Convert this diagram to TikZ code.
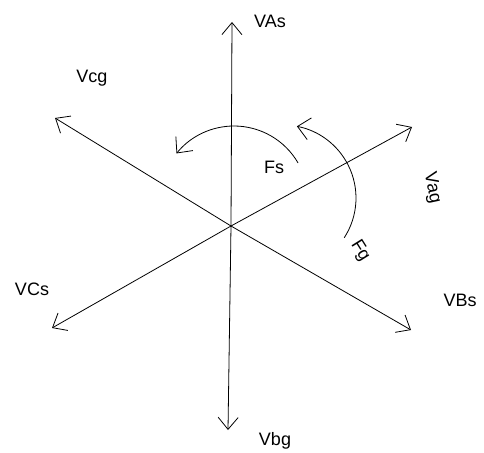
\documentclass[tikz,border=0pt]{standalone}
\usepackage{fontspec}
\setmainfont{Liberation Sans}
\usetikzlibrary{arrows.meta}
\begin{document}
\begin{tikzpicture}[x=1pt,y=-1pt,
  vec/.style={line width=0.8pt,-{Straight Barb[length=12pt,width=20pt,line width=0.8pt]}},
  rot/.style={line width=0.8pt,-{Straight Barb[length=12pt,width=22pt,line width=0.8pt]}},
  lbl/.style={font=\fontsize{18}{18}\selectfont, inner sep=0pt}]
\useasboundingbox (0,0) rectangle (484,452);
\coordinate (O) at (231,226);
\coordinate (As) at (232,22);
\coordinate (bg) at (228,430);
\coordinate (cg) at (55,118);
\coordinate (Bs) at (411,330);
\coordinate (ag) at (412,127);
\coordinate (Cs) at (52,328);
\draw[vec] (O) -- (As);
\draw[vec] (O) -- (bg);
\draw[vec] (O) -- (cg);
\draw[vec] (O) -- (Bs);
\draw[vec] (O) -- (ag);
\draw[vec] (O) -- (Cs);
% Fs arc
\coordinate (FsA) at ({234+74*cos(-30)},{200+74*sin(-30)});
\draw[rot] (FsA) arc[start angle=-30, end angle=-141, radius=74];
% Fg arc
\coordinate (FgA) at ({283+73*cos(33)},{198+73*sin(33)});
\draw[rot] (FgA) arc[start angle=33, end angle=-79, radius=73];
\node[lbl] (tAs) at (270,21) {VAs};
\node[lbl] (tcg) at (92,78) {Vcg};
\node[lbl] (tFs) at (274,167) {Fs};
\node[lbl, rotate=-78] (tag) at (432,188) {Vag};
\node[lbl, rotate=-58] (tFg) at (360,251) {Fg};
\node[lbl] (tCs) at (32,289) {VCs};
\node[lbl] (tBs) at (460,300) {VBs};
\node[lbl] (tbg) at (275,441) {Vbg};
\end{tikzpicture}
\end{document}
